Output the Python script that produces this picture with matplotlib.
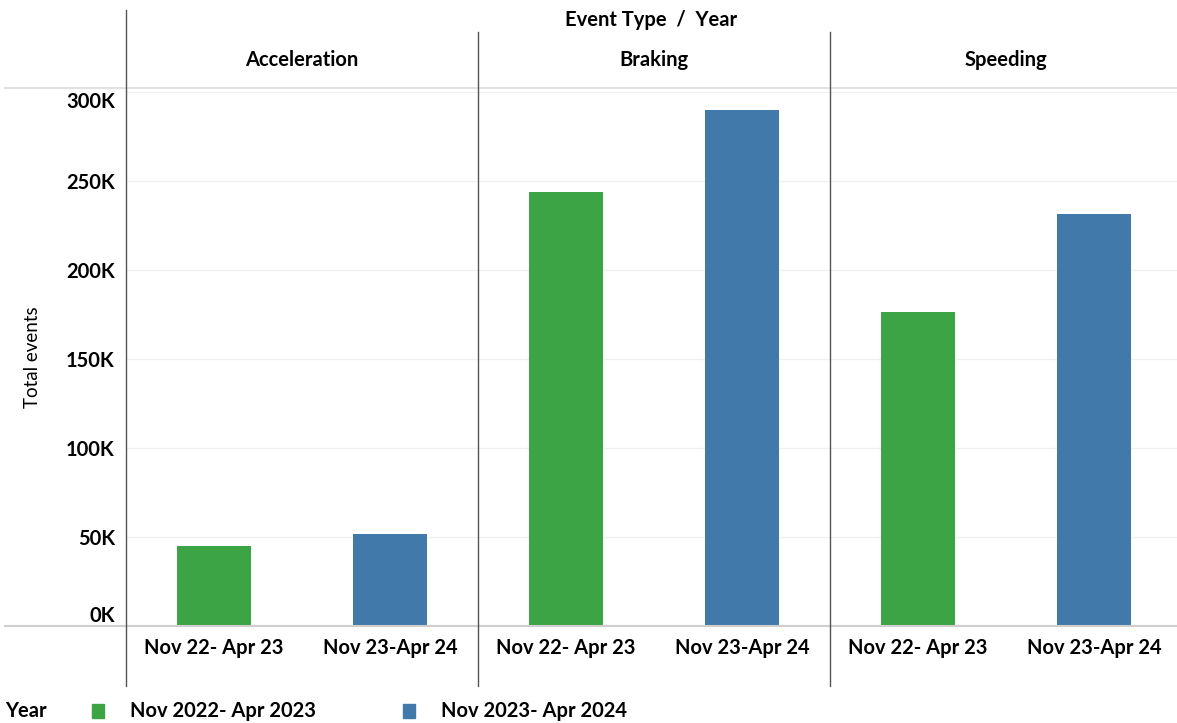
import matplotlib
matplotlib.use("Agg")
import matplotlib.pyplot as plt
from matplotlib.lines import Line2D
from matplotlib.patches import Rectangle

# ---- data
event_types = ["Acceleration", "Braking", "Speeding"]
periods = ["Nov 22- Apr 23", "Nov 23-Apr 24"]
legend_names = ["Nov 2022- Apr 2023", "Nov 2023- Apr 2024"]
period1_vals = [45000, 243500, 176500]
period2_vals = [51500, 289500, 231500]
colors = ["#3ca444", "#4079aa"]
yticks = [0, 50000, 100000, 150000, 200000, 250000, 300000]

plt.rcParams["font.family"] = ["Lato", "DejaVu Sans"]

W, H = 1177, 723
fig = plt.figure(figsize=(W / 100, H / 100), dpi=100)

def fx(px):
    return px / W

def fy(py):
    return 1 - py / H

left, right, top, bottom = 126, 1182, 88, 626
ax = fig.add_axes([fx(left), fy(bottom), fx(right) - fx(left), fy(top) - fy(bottom)])

n = len(event_types)
xs1 = [2 * i + 0.5 for i in range(n)]
xs2 = [2 * i + 1.5 for i in range(n)]
ax.bar(xs1, period1_vals, width=0.42, color=colors[0], zorder=3)
ax.bar(xs2, period2_vals, width=0.42, color=colors[1], zorder=3)

ax.set_xlim(0, 2 * n)
ax.set_ylim(0, 302000)
ax.set_yticks(yticks)
ax.set_yticklabels([f"{v // 1000}K" for v in yticks], fontsize=14.5, fontweight="bold")
labs = ax.get_yticklabels()
labs[0].set_va("bottom")
labs[-1].set_va("top")
ax.tick_params(axis="y", length=0, pad=8)
ax.grid(axis="y", color="#f0f0f0", linewidth=1, zorder=0)

ax.set_xticks(xs1 + xs2)
ax.set_xticklabels([periods[0]] * n + [periods[1]] * n, fontsize=14.5, fontweight="bold")
ax.tick_params(axis="x", length=0, pad=9)

for s in ax.spines.values():
    s.set_visible(False)

ax.set_ylabel("Total events", fontsize=13.5, labelpad=18)

# frame lines in figure pixels
def hline(y, x0, x1, c, lw):
    fig.add_artist(Line2D([fx(x0), fx(x1)], [fy(y), fy(y)], color=c, linewidth=lw))

def vline(x, y0, y1, c, lw):
    fig.add_artist(Line2D([fx(x), fx(x)], [fy(y0), fy(y1)], color=c, linewidth=lw))

hline(88, 5, 1177, "#e2e2e2", 1.5)
hline(626, 5, 1177, "#cfcfcf", 1.5)
vline(126, 10, 686, "#555555", 1.0)
panel_w = (right - left) / n
for i in range(1, n):
    vline(left + panel_w * i, 32, 686, "#555555", 1.0)

# headers
fig.text(fx(651), fy(20), "Event Type  /  Year", ha="center", va="center",
         fontsize=14.5, fontweight="bold")
for i, name in enumerate(event_types):
    fig.text(fx(left + panel_w * (i + 0.5)), fy(60), name, ha="center", va="center",
             fontsize=14.5, fontweight="bold")

# legend
fig.text(fx(5), fy(711), "Year", ha="left", va="center", fontsize=14.5, fontweight="bold")
for i, (name, c) in enumerate(zip(legend_names, colors)):
    x0 = 92 + i * 311
    fig.add_artist(Rectangle((fx(x0), fy(718)), fx(12), 14 / H, color=c))
    fig.text(fx(x0 + 38), fy(711), name, ha="left", va="center", fontsize=14.5, fontweight="bold")

fig.savefig("out.png", dpi=100)
